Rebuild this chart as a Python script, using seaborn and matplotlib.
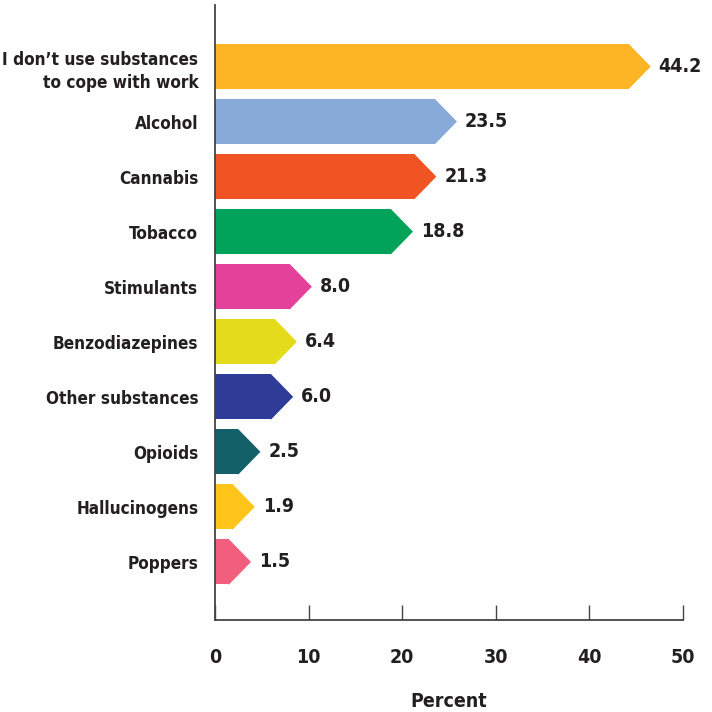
import matplotlib
matplotlib.use("Agg")
import matplotlib.pyplot as plt
from matplotlib.patches import Polygon
from matplotlib import font_manager
import seaborn as sns
import pandas as pd

categories = [
    "I don\u2019t use substances\nto cope with work",
    "Alcohol",
    "Cannabis",
    "Tobacco",
    "Stimulants",
    "Benzodiazepines",
    "Other substances",
    "Opioids",
    "Hallucinogens",
    "Poppers",
]
percent = [44.2, 23.5, 21.3, 18.8, 8.0, 6.4, 6.0, 2.5, 1.9, 1.5]
colors = [
    "#FDB526", "#87AAD8", "#F05423", "#00A359", "#E3429A",
    "#E4DB1A", "#2E3C98", "#136068", "#FFC51B", "#F25E7E",
]
x_ticks = [0, 10, 20, 30, 40, 50]

sns.set_theme(style="white")
plt.rcParams["font.family"] = ["DejaVu Sans"]
plt.rcParams["font.weight"] = "bold"
plt.rcParams["font.stretch"] = "condensed"

fp = font_manager.FontProperties(family="DejaVu Sans", weight="bold",
                                 stretch="condensed", size=14)
fp_cat = font_manager.FontProperties(family="DejaVu Sans", weight="bold",
                                     stretch="condensed", size=12.3)

df = pd.DataFrame({"category": categories, "percent": percent})

fig = plt.figure(figsize=(7.12, 7.12), dpi=100)
ax = fig.add_axes([215 / 712, 1 - 620 / 712, 468 / 712, 615 / 712])

sns.barplot(data=df, x="percent", y="category", hue="category",
            palette=colors, legend=False, width=0.82, saturation=1,
            ax=ax, orient="h", linewidth=0)

text_color = "#231F20"
tip = 2.35  # arrow head length in data units
for bar, val, col in zip(ax.patches, percent, colors):
    y0 = bar.get_y()
    h = bar.get_height()
    x1 = bar.get_x() + bar.get_width()
    head = Polygon([(x1 - 0.08, y0), (x1, y0), (x1 + tip, y0 + h / 2),
                    (x1, y0 + h), (x1 - 0.08, y0 + h)],
                   closed=True, facecolor=col, edgecolor="none")
    ax.add_patch(head)
    ax.text(x1 + tip + 0.85, y0 + h / 2, f"{val:.1f}", va="center",
            ha="left", color=text_color, fontproperties=fp)

ax.set_xlim(0, 50)
ax.set_ylim(len(categories) - 1 + 1.055, -1.118)
ax.set_xticks(x_ticks)
ax.set_xticklabels([str(t) for t in x_ticks], fontproperties=fp,
                   color=text_color)
ax.set_yticks(range(len(categories)))
ax.set_yticklabels(categories, fontproperties=fp_cat, color=text_color,
                   multialignment="right", linespacing=1.4)
ax.set_ylabel("")
ax.set_xlabel("Percent", fontproperties=fp, color=text_color, labelpad=18)

for side in ["top", "right"]:
    ax.spines[side].set_visible(False)
for side in ["left", "bottom"]:
    ax.spines[side].set_color("#444444")
    ax.spines[side].set_linewidth(1.3)

ax.tick_params(axis="x", bottom=True, direction="in", length=11, width=1.0,
               color="#444444", pad=20)
ax.tick_params(axis="y", left=False, length=0, pad=12)

fig.savefig("out.png", dpi=100)
